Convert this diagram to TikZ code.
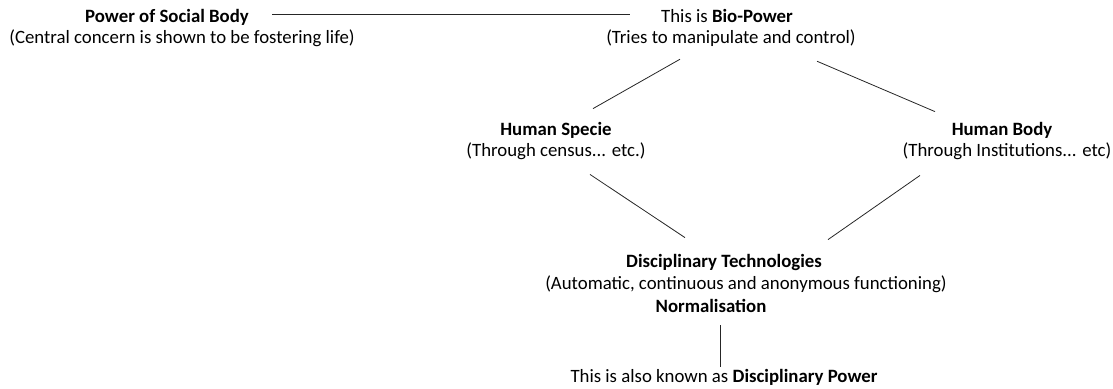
\documentclass[tikz,border=0pt]{standalone}
\usepackage{fontspec}
\setmainfont{Carlito}

\tikzset{
  txt/.style={inner sep=0pt, anchor=base, font=\fontsize{18.8}{22}\selectfont},
  link/.style={draw=black!85, line width=0.8pt}
}

\begin{document}
\begin{tikzpicture}[x=1pt,y=-1pt]
\useasboundingbox (0,0) rectangle (1113,388);

% nodes
\node [txt] (social)     at (167,22)  {\textbf{Power of Social Body}};
\node [txt] (socialnote) at (182,43)  {(Central concern is shown to be fostering life)};
\node [txt] (bio)        at (727,22)  {This is \textbf{Bio-Power}};
\node [txt] (bionote)    at (731,43)  {(Tries to manipulate and control)};
\node [txt] (specie)     at (556,135) {\textbf{Human Specie}};
\node [txt] (specienote) at (556,156) {(Through census... etc.)};
\node [txt] (body)       at (1002,135) {\textbf{Human Body}};
\node [txt] (bodynote)   at (1007,156) {(Through Institutions... etc)};
\node [txt] (tech)       at (724,267) {\textbf{Disciplinary Technologies}};
\node [txt] (technote)   at (746,289) {(Automatic, continuous and anonymous functioning)};
\node [txt] (norm)       at (711,312) {\textbf{Normalisation}};
\node [txt] (known)      at (724,382) {This is also known as \textbf{Disciplinary Power}};

% links
\draw [link] ([xshift=-31pt,yshift=1pt]bio.west) -- +(-358pt,0);
\draw [link] ([shift={(-51pt,-13pt)}]bionote.south) -- ([shift={(37pt,13pt)}]specie.north);
\draw [link] ([shift={(86pt,-15pt)}]bionote.south) -- ([shift={(-67pt,10pt)}]body.north);
\draw [link] ([shift={(34pt,-15pt)}]specienote.south) -- ([shift={(-39pt,16pt)}]tech.north);
\draw [link] ([shift={(-87pt,-16pt)}]bodynote.south) -- ([shift={(104pt,14pt)}]tech.north);
\draw [link] ([shift={(9pt,-13pt)}]norm.south) -- ([shift={(-4pt,2pt)}]known.north);

\end{tikzpicture}
\end{document}
